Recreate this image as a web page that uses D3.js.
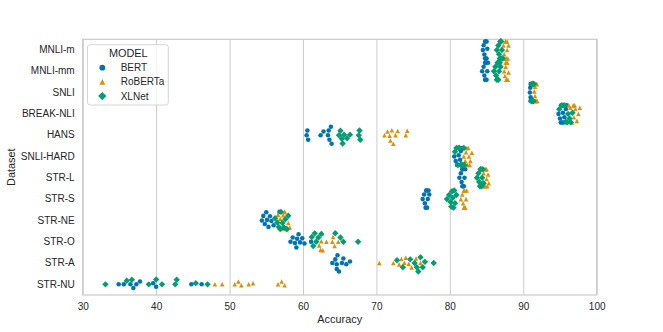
<!DOCTYPE html>
<html lang="en">
<head>
<meta charset="UTF-8">
<title>Accuracy by dataset - swarm plot</title>
<script src="https://d3js.org/d3.v7.min.js"></script>
<style>
  body { margin: 0; background: #fff; }
  svg text { font-family: Arial, "Liberation Sans", sans-serif; fill: #262626; }
</style>
</head>
<body>
<div id="chart"></div>
<script>
// categories (top to bottom)
const datasets = ["MNLI-m", "MNLI-mm", "SNLI", "BREAK-NLI", "HANS", "SNLI-HARD",
                  "STR-L", "STR-S", "STR-NE", "STR-O", "STR-A", "STR-NU"];
const models = ["BERT", "RoBERTa", "XLNet"];
const xTicks = [30, 40, 50, 60, 70, 80, 90, 100];

// accuracy per run, one row per dataset (same order as datasets)
const bert = [
  [84.5, 84.6, 84.7, 84.8, 84.8, 84.9, 84.9, 85.0, 85.0, 85.1],
  [84.4, 84.6, 84.7, 84.8, 84.8, 84.9, 84.9, 85.0, 85.1, 85.2],
  [90.9, 90.95, 91.0, 91.0, 91.0, 91.05, 91.1, 91.1, 91.15, 91.2],
  [94.8, 95.0, 95.1, 95.2, 95.3, 95.4, 95.5, 95.6, 95.8, 95.9],
  [60.5, 60.6, 60.7, 62.4, 62.8, 63.4, 63.5, 63.6, 63.8, 63.9],
  [80.6, 80.8, 81.0, 81.0, 81.1, 81.2, 81.3, 81.4, 81.5, 81.7],
  [81.3, 81.5, 81.6, 81.7, 81.7, 81.8, 81.8, 81.9, 82.0, 82.1],
  [76.3, 76.5, 76.6, 76.7, 76.8, 76.8, 76.9, 77.0, 77.1, 77.2],
  [54.4, 54.6, 54.8, 55.0, 55.1, 55.3, 55.5, 55.7, 56.0, 56.8],
  [58.3, 58.6, 58.9, 59.1, 59.2, 59.4, 59.6, 59.9, 60.2, 61.1],
  [64.0, 64.4, 64.6, 64.6, 64.7, 64.9, 65.3, 65.5, 65.9, 66.4],
  [34.9, 35.6, 36.5, 36.9, 37.3, 37.8, 39.6, 40.0, 44.8, 46.2]
];
const roberta = [
  [87.3, 87.4, 87.5, 87.6, 87.6, 87.7, 87.8, 87.8, 87.9, 88.0],
  [87.4, 87.5, 87.6, 87.6, 87.7, 87.7, 87.8, 87.8, 87.9, 88.0],
  [91.5, 91.6, 91.6, 91.65, 91.7, 91.7, 91.75, 91.8, 91.85, 91.9],
  [96.2, 96.4, 96.6, 96.8, 96.9, 97.0, 97.1, 97.3, 97.5, 97.7],
  [71.1, 71.5, 71.8, 71.9, 72.1, 72.3, 72.6, 72.9, 74.0, 74.2],
  [81.9, 82.1, 82.2, 82.3, 82.4, 82.5, 82.6, 82.7, 82.8, 83.0],
  [84.6, 84.7, 84.8, 84.9, 84.9, 85.0, 85.0, 85.1, 85.2, 85.3],
  [81.5, 81.7, 81.8, 81.9, 81.9, 82.0, 82.0, 82.1, 82.2, 82.3],
  [56.6, 56.9, 57.1, 57.3, 57.5, 57.5, 57.7, 57.8, 58.0, 58.2],
  [62.2, 62.4, 62.5, 62.6, 62.7, 63.2, 64.0, 64.1, 64.3, 64.8],
  [70.4, 72.3, 73.1, 73.4, 73.8, 74.0, 74.4, 74.8, 75.4, 76.0],
  [48.0, 49.0, 50.7, 51.2, 51.6, 52.6, 53.2, 56.6, 57.1, 57.5]
];
const xlnet = [
  [86.4, 86.6, 86.7, 86.8, 86.9, 86.9, 87.0, 87.0, 87.1, 87.2],
  [86.0, 86.2, 86.3, 86.4, 86.5, 86.6, 86.6, 86.7, 86.8, 86.9],
  [91.1, 91.2, 91.2, 91.25, 91.3, 91.3, 91.3, 91.35, 91.4, 91.45],
  [94.9, 95.2, 95.4, 95.6, 95.8, 96.0, 96.1, 96.3, 96.5, 96.7],
  [64.9, 65.1, 65.3, 65.4, 65.6, 66.0, 66.4, 67.6, 67.7, 67.8],
  [80.7, 80.9, 81.1, 81.2, 81.3, 81.5, 81.6, 81.8, 81.9, 82.0],
  [83.7, 83.9, 84.0, 84.1, 84.2, 84.2, 84.3, 84.4, 84.5, 84.6],
  [79.6, 79.9, 80.1, 80.2, 80.3, 80.4, 80.5, 80.6, 80.7, 80.9],
  [56.2, 56.5, 56.7, 56.9, 57.0, 57.2, 57.4, 57.6, 57.8, 58.0],
  [61.2, 61.4, 61.6, 61.8, 62.1, 62.5, 64.4, 65.1, 65.5, 67.5],
  [72.8, 73.6, 74.6, 75.2, 75.5, 75.7, 76.0, 76.3, 76.6, 77.8],
  [33.1, 36.0, 36.7, 39.0, 40.0, 40.8, 42.6, 42.8, 45.4, 47.0]
];

const width = 663, height = 332;
const margin = { top: 39.3, right: 66.3, bottom: 37, left: 82.7 };
const plotW = width - margin.left - margin.right;
const plotH = height - margin.top - margin.bottom;

const colors = { BERT: "#0173b2", RoBERTa: "#de8f05", XLNet: "#029e73" };
const ms = 4.55;          // marker size in px
const r = ms / 2;         // radius used for swarm collisions

const svg = d3.select("#chart").append("svg")
  .attr("width", width)
  .attr("height", height);

const g = svg.append("g")
  .attr("transform", "translate(" + margin.left + "," + margin.top + ")");

const x = d3.scaleLinear().domain([30, 100]).range([0, plotW]);
const y = d3.scaleBand().domain(datasets).range([0, plotH]).padding(0);

// vertical grid
g.append("g")
  .attr("transform", "translate(0," + plotH + ")")
  .call(d3.axisBottom(x).tickValues(xTicks).tickSize(-plotH).tickFormat(""))
  .call(a => a.select(".domain").remove())
  .call(a => a.selectAll("line").attr("stroke", "#cccccc").attr("stroke-width", 1));

// frame
g.append("rect")
  .attr("width", plotW).attr("height", plotH)
  .attr("fill", "none").attr("stroke", "#cccccc").attr("stroke-width", 1.25);

// x axis labels
g.append("g")
  .attr("transform", "translate(0," + plotH + ")")
  .call(d3.axisBottom(x).tickValues(xTicks).tickSize(0).tickPadding(8))
  .call(a => a.select(".domain").remove())
  .call(a => a.selectAll("text").attr("font-size", 10).attr("fill", "#262626")
    .style("font-family", "Arial, 'Liberation Sans', sans-serif"));

// y axis labels
g.append("g")
  .call(d3.axisLeft(y).tickSize(0).tickPadding(8))
  .call(a => a.select(".domain").remove())
  .call(a => a.selectAll("text").attr("font-size", 10).attr("fill", "#262626")
    .style("font-family", "Arial, 'Liberation Sans', sans-serif"));

// axis titles
svg.append("text")
  .attr("x", margin.left + plotW / 2)
  .attr("y", 323)
  .attr("text-anchor", "middle")
  .attr("font-size", 10.9)
  .text("Accuracy");

svg.append("text")
  .attr("transform", "rotate(-90)")
  .attr("x", -(margin.top + plotH / 2))
  .attr("y", 15)
  .attr("text-anchor", "middle")
  .attr("font-size", 10.9)
  .text("Dataset");

// beeswarm layout, like seaborn: sort by value, take the free spot closest to the midline
function swarm(points, half) {
  points.sort((a, b) => a.px - b.px);
  const placed = [];
  const d = 2 * r;
  points.forEach(p => {
    const nb = [];
    for (let i = placed.length - 1; i >= 0; i--) {
      if (p.px - placed[i].px < d) nb.push(placed[i]);
      else break;
    }
    const cands = [0];
    nb.forEach(q => {
      const dx = p.px - q.px;
      const dy = Math.sqrt(Math.max(d * d - dx * dx, 0)) * 1.05;
      cands.push(q.off - dy, q.off + dy);
    });
    cands.sort((a, b) => Math.abs(a) - Math.abs(b));
    p.off = cands.find(c => nb.every(q => Math.hypot(p.px - q.px, c - q.off) >= d - 1e-6));
    if (p.off === undefined) p.off = 0;
    placed.push(p);
  });
  // gutters
  points.forEach(p => { p.off = Math.max(-half, Math.min(half, p.off)); });
  return points;
}

const series = { BERT: bert, RoBERTa: roberta, XLNet: xlnet };
const allPoints = [];
datasets.forEach((ds, i) => {
  const pts = [];
  models.forEach(m => {
    series[m][i].forEach(v => pts.push({ model: m, value: v, px: x(v), dataset: ds }));
  });
  swarm(pts, y.bandwidth() * 0.8 / 2);
  pts.forEach(p => { p.py = y(ds) + y.bandwidth() / 2 + p.off; });
  allPoints.push(...pts);
});

function markerPath(m, s) {
  if (m === "BERT") return d3.symbol(d3.symbolCircle, Math.PI * (s / 2) * (s / 2))();
  if (m === "RoBERTa") {
    const h = s / 2;
    return "M0," + (-h) + "L" + h + "," + h + "L" + (-h) + "," + h + "Z";
  }
  const k = s * 0.7071;
  return "M0," + (-k) + "L" + k + ",0L0," + k + "L" + (-k) + ",0Z";
}

// draw hue by hue so XLNet ends on top
models.forEach(m => {
  g.append("g")
    .selectAll("path")
    .data(allPoints.filter(p => p.model === m))
    .join("path")
      .attr("d", markerPath(m, ms))
      .attr("transform", p => "translate(" + p.px + "," + p.py + ")")
      .attr("fill", colors[m]);
});

// legend
const leg = svg.append("g").attr("transform", "translate(87.5,44.7)");
leg.append("rect")
  .attr("width", 80.8).attr("height", 60.3)
  .attr("rx", 2.5)
  .attr("fill", "#ffffff").attr("fill-opacity", 0.8)
  .attr("stroke", "#cccccc").attr("stroke-width", 0.8);
leg.append("text")
  .attr("x", 40.8).attr("y", 12.5)
  .attr("text-anchor", "middle")
  .attr("font-size", 10.9)
  .text("MODEL");
models.forEach((m, i) => {
  const cy = 23 + i * 14.2;
  leg.append("path")
    .attr("d", markerPath(m, 5.8))
    .attr("transform", "translate(14.8," + cy + ")")
    .attr("fill", colors[m]);
  leg.append("text")
    .attr("x", 33.2).attr("y", cy + 3.6)
    .attr("font-size", 10)
    .text(m);
});
</script>
</body>
</html>
